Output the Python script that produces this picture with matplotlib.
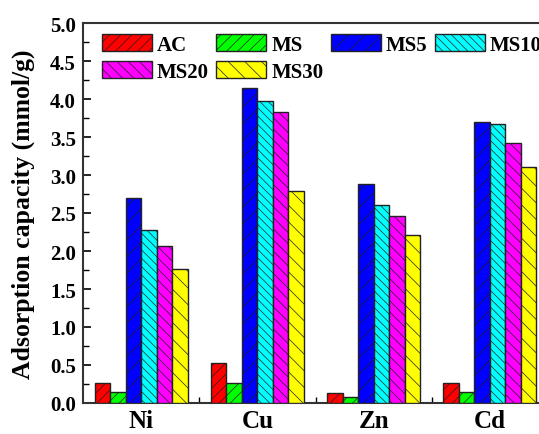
import numpy as np
import matplotlib
matplotlib.use('Agg')
import matplotlib.pyplot as plt
from matplotlib.ticker import MultipleLocator

# 데이터
metals = ['Ni', 'Cu', 'Zn', 'Cd']
series = ['AC', 'MS', 'MS5', 'MS10', 'MS20', 'MS30']
AC = [0.26, 0.52, 0.13, 0.26]
MS = [0.15, 0.26, 0.075, 0.15]
MS5 = [2.70, 4.14, 2.88, 3.70]
MS10 = [2.28, 3.98, 2.61, 3.67]
MS20 = [2.07, 3.83, 2.46, 3.42]
MS30 = [1.76, 2.79, 2.21, 3.11]
values = [AC, MS, MS5, MS10, MS20, MS30]

colors = ['#FF0000', '#00FF00', '#0000FF', '#00FFFF', '#FF00FF', '#FFFF00']
hatches = ['///', '///', '//', '\\\\\\\\', '\\\\\\', '\\\\']

plt.rcParams['font.family'] = ['Liberation Serif', 'DejaVu Serif']
plt.rcParams['font.weight'] = 'bold'
plt.rcParams['hatch.linewidth'] = 0.5

fig = plt.figure(figsize=(5.39, 4.35), dpi=100)
ax = fig.add_axes([83 / 539, 31 / 435, 465 / 539, 380 / 435])

x = np.arange(1, len(metals) + 1)
width = 0.8 / len(series)
bars = []
for i, (name, vals) in enumerate(zip(series, values)):
    pos = x - 0.4 + width * (i + 0.5)
    b = ax.bar(pos, vals, width, color=colors[i], edgecolor='#222222',
               linewidth=1.0, hatch=hatches[i], label=name, zorder=3)
    bars.append(b)

ax.set_xlim(0.5, 4.5)
ax.set_ylim(0, 5.0)
ax.set_xticks(x)
ax.set_xticklabels(metals, fontsize=18, fontweight='bold')
ax.set_xticks([1.5, 2.5, 3.5], minor=True)
ax.yaxis.set_major_locator(MultipleLocator(0.5))
ax.yaxis.set_minor_locator(MultipleLocator(0.25))
ax.yaxis.set_major_formatter(plt.FormatStrFormatter('%.1f'))
for lab in ax.get_yticklabels():
    lab.set_fontsize(15)
    lab.set_fontweight('bold')

ax.tick_params(axis='y', which='major', direction='in', length=6, width=1.2, pad=5)
ax.tick_params(axis='y', which='minor', direction='in', length=4, width=1.0)
ax.tick_params(axis='x', which='major', length=0, pad=4)
ax.tick_params(axis='x', which='minor', direction='in', length=4, width=1.0)

for sp in ax.spines.values():
    sp.set_linewidth(1.5)
    sp.set_color('#333333')

ax.set_ylabel('Adsorption capacity (mmol/g)', fontsize=18.5, fontweight='bold', labelpad=11)

# 범례: 행 단위 순서로 배치
order = [0, 4, 1, 5, 2, 3]
ax.legend([bars[k] for k in order], [series[k] for k in order],
          ncol=4, loc='upper left', bbox_to_anchor=(0.04, 0.97), frameon=False,
          prop={'size': 15, 'weight': 'bold'}, handlelength=2.4, handleheight=0.85,
          handletextpad=0.25, columnspacing=0.35, labelspacing=0.3,
          borderpad=0, borderaxespad=0)

fig.savefig('out.png', dpi=100)
